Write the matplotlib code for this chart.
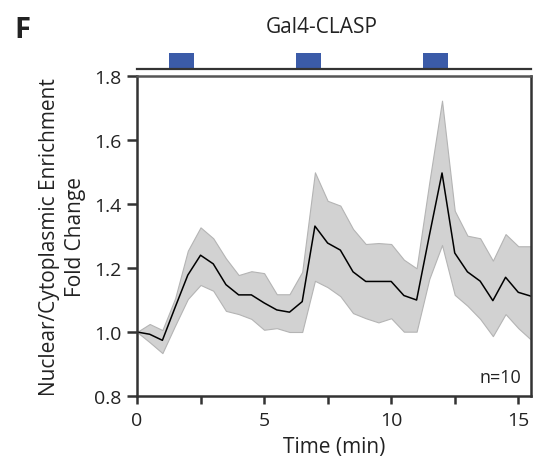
import matplotlib.pyplot as plt
import numpy as np

plt.rcParams['font.family'] = ['Open Sans', 'DejaVu Sans']

# time points (min), sampled every 30 s
time = np.arange(0, 15.51, 0.5)
mean = [1.00, 0.993, 0.974, 1.077, 1.178, 1.240, 1.213, 1.148, 1.116, 1.116,
        1.091, 1.069, 1.062, 1.095, 1.331, 1.278, 1.256, 1.188, 1.158, 1.158,
        1.158, 1.114, 1.100, 1.301, 1.497, 1.247, 1.188, 1.159, 1.098, 1.171,
        1.124, 1.112]
upper = [1.00, 1.025, 1.006, 1.105, 1.254, 1.327, 1.293, 1.230, 1.178, 1.190,
         1.184, 1.118, 1.118, 1.188, 1.499, 1.410, 1.395, 1.322, 1.275, 1.278,
         1.275, 1.226, 1.199, 1.468, 1.723, 1.379, 1.301, 1.293, 1.223, 1.306,
         1.268, 1.268]
lower = [1.00, 0.968, 0.934, 1.020, 1.103, 1.147, 1.129, 1.066, 1.056, 1.041,
         1.007, 1.012, 1.000, 1.000, 1.160, 1.140, 1.112, 1.059, 1.043, 1.030,
         1.043, 1.001, 1.001, 1.166, 1.272, 1.116, 1.082, 1.041, 0.987, 1.056,
         1.012, 0.976]

# light stimulation windows (start, end) in min
stim_on = [1.25, 6.25, 11.25]
stim_off = [2.25, 7.25, 12.25]

fig = plt.figure(figsize=(5.41, 4.64), dpi=100)
ax = fig.add_axes([0.2532, 0.1444, 0.7283, 0.6896])

ax.fill_between(time, lower, upper, facecolor='#d2d2d2', edgecolor='#b4b4b4', linewidth=0.8)
ax.plot(time, mean, color='black', linewidth=1.1)

ax.set_xlim(0, 15.5)
ax.set_ylim(0.8, 1.8)
ax.set_xticks([0, 5, 10, 15])
ax.set_xticks([2.5, 7.5, 12.5], minor=True)
ax.set_yticks([0.8, 1.0, 1.2, 1.4, 1.6, 1.8])
ax.set_yticklabels(['0.8', '1.0', '1.2', '1.4', '1.6', '1.8'])
ax.tick_params(axis='both', which='both', direction='out', width=1.8, color='#333333',
               labelsize=14, labelcolor='#222222')
ax.tick_params(axis='x', which='both', length=6, pad=5)
ax.tick_params(axis='y', length=7, pad=4)
for side in ['left', 'bottom', 'right']:
    ax.spines[side].set_linewidth(1.8)
    ax.spines[side].set_color('#333333')
ax.spines['top'].set_linewidth(1.8)
ax.spines['top'].set_color('#555555')

ax.set_xlabel('Time (min)', fontsize=15, color='#222222', labelpad=5)
ax.set_ylabel('Nuclear/Cytoplasmic Enrichment\nFold Change', fontsize=15,
              color='#222222', linespacing=1.3, labelpad=6)
ax.text(0.975, 0.03, 'n=10', transform=ax.transAxes, ha='right', va='bottom',
        fontsize=13, color='#222222')

# stimulation bar above the plot
sax = fig.add_axes([0.2532, 0.8491, 0.7283, 0.0345], sharex=ax)
for s, e in zip(stim_on, stim_off):
    sax.axvspan(s, e, ymin=0, ymax=1, color='#3b5ba8', linewidth=0)
sax.set_ylim(0, 1)
for side in ['left', 'right', 'top']:
    sax.spines[side].set_visible(False)
sax.spines['bottom'].set_linewidth(1.6)
sax.spines['bottom'].set_color('#333333')
sax.tick_params(which='both', bottom=False, left=False, labelbottom=False, labelleft=False)

fig.text(0.595, 0.94, 'Gal4-CLASP', ha='center', va='center', fontsize=15, color='#222222')
fig.text(0.027, 0.935, 'F', ha='left', va='center', fontsize=21, fontweight='bold', color='#222222')

fig.savefig('out.png', dpi=100)
